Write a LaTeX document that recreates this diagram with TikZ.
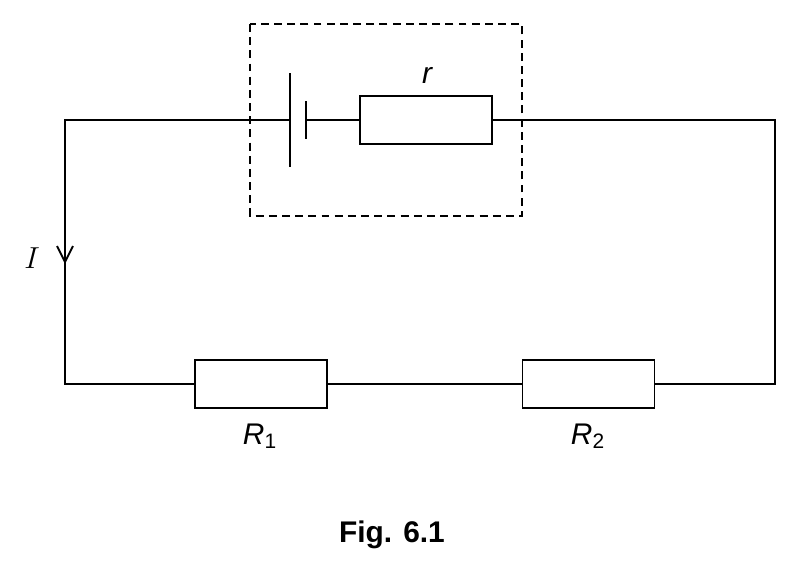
\documentclass[tikz,border=0pt]{standalone}
\usepackage{fontspec}
\setmainfont{Liberation Sans}
\usetikzlibrary{arrows.meta,decorations.markings}
\begin{document}
\begin{tikzpicture}[x=0.02cm,y=-0.02cm,line width=1.1pt]
\useasboundingbox (0,0) rectangle (799,583);
% styles
\tikzset{resistor/.style={draw, minimum width=2.64cm, minimum height=0.96cm, inner sep=0pt},
  lbl/.style={font=\itshape\fontsize{17}{20}\selectfont}}

% corners
\coordinate (tl) at (65,120);
\coordinate (tr) at (775,120);
\coordinate (bl) at (65,384);
\coordinate (br) at (775,384);

% cell
\coordinate (pl) at (290,120);
\coordinate (ps) at (306,120);
\draw (290,73) -- (290,167);
\draw (306,101) -- (306,139);

% resistors
\node (r) [resistor] at (426,120) {};
\node (R1) [resistor] at (261,384) {};
\node (R2) [resistor] at (588.5,384) {};

% wires
\draw (pl) -- (tl) -- (bl) -- (R1.west);
\draw (ps) -- (r.west);
\draw (r.east) -- (tr) -- (br) -- (R2.east);
\draw (R1.east) -- (R2.west);

% current arrow
\draw[line width=1.1pt] (57,246) -- (65,262) -- (73,246);

% dashed box
\draw[dashed, line width=1.1pt, dash pattern=on 4.5pt off 3pt] (250,24) rectangle (522,216);

% labels
\node[lbl] at (427,75) {r};
\node at (32,258) {\fontsize{18}{20}\selectfont$I$};
\node[lbl] at (260,436) {R\textsubscript{\upshape 1}};
\node[lbl] at (588,436) {R\textsubscript{\upshape 2}};
\node[font=\bfseries\fontsize{17}{20}\selectfont] at (392,535) {Fig. 6.1};
\end{tikzpicture}
\end{document}
